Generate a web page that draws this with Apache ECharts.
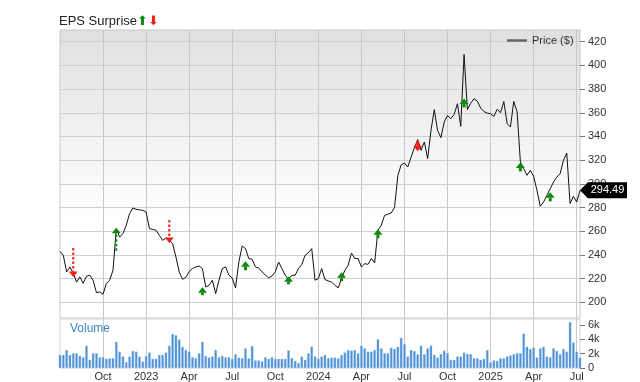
<!DOCTYPE html>
<html><head><meta charset="utf-8">
<script src="https://cdn.jsdelivr.net/npm/echarts@6/dist/echarts.min.js"></script>
<style>html,body{margin:0;padding:0;background:#fff}#c{width:640px;height:382px}</style>
</head><body><div id="c"></div>
<script>
// ---- data ----
const startDate = '2022-07-04';   // first weekly bar
const weekCount = 158;
const price = [
  243, 239.7, 225.6, 229.8, 224.5, 217, 221.4, 216, 222, 222.8,
  218.6, 208.2, 208.7, 206.8, 215.8, 218.6, 227, 262.2, 255, 258,
  265, 274.8, 279.6, 278.5, 278, 277.6, 276.2, 262.2, 261.5, 260.8,
  256.5, 252.3, 254.3, 252.3, 249.5, 238.2, 225.6, 219.4, 221, 226,
  228.5, 229.8, 230.6, 228.4, 212.9, 214.3, 218.6, 207.3, 218.6, 228.4,
  229.8, 222.8, 220.5, 212.1, 234, 247.5, 245.3, 236.9, 236.3, 229.8,
  228.9, 225.6, 223, 220.5, 222.2, 225.6, 234, 228.4, 222.8, 219.4,
  222.8, 222.8, 228.4, 231.8, 239.7, 241.9, 245.3, 218.6, 220, 228.4,
  219.2, 218, 217.1, 214.3, 212.1, 220, 227, 231.2, 241.6, 236.9,
  236.9, 229.8, 232.6, 232, 236.9, 233.2, 261, 265, 273.4, 274.3,
  275.4, 280, 307, 316, 317.6, 314.2, 322.6, 330.5, 337.3, 328.3,
  335.3, 321.3, 345, 362.6, 345, 339, 352.2, 357.8, 355, 358.6,
  367.7, 348.5, 409.3, 362.6, 368, 371.9, 369.9, 364, 361, 359.7,
  359.2, 357, 363, 360, 369.5, 350.8, 348, 369.5, 361, 318.4,
  312.8, 307.2, 311.4, 306.3, 294.5, 281, 284.6, 290.3, 295.9, 301.5,
  305.7, 308.6, 319.8, 326, 283.3, 289.5, 284.6, 294.49
];
const volumeK = [
  1.82, 1.82, 2.5, 1.82, 2.05, 2.05, 1.68, 1.5, 3.09, 1.14,
  2.05, 2.05, 1.5, 1.5, 1.27, 1.36, 1.36, 3.64, 2.27, 1.59,
  0.82, 1.59, 2.36, 2.27, 1.59, 0.91, 1.68, 2.14, 1.27, 1.27,
  1.82, 1.82, 2.14, 3.09, 4.73, 4.55, 3.95, 2.95, 2.5, 2.27,
  1.5, 1.36, 2.05, 3.64, 1.68, 1.45, 1.59, 2.5, 1.5, 1.68,
  1.5, 1.5, 1.27, 1.91, 1.45, 1.36, 2.73, 1.36, 3.05, 1.05,
  1.05, 0.91, 1.5, 1.27, 1.5, 1.27, 1.27, 1.27, 1.27, 2.45,
  1.36, 1.0, 0.68, 1.59, 1.14, 2.05, 2.95, 1.59, 1.3,
  1.59, 1.82, 1.36, 1.45, 1.45, 1.36, 1.82, 2.14, 2.5, 2.41,
  2.5, 2.05, 3.09, 2.73, 2.27, 2.27, 2.5, 4.0, 2.73, 2.05,
  2.05, 2.82, 2.64, 2.95, 4.18, 3.32, 1.59, 2.5, 2.36, 1.91,
  3.09, 1.91, 2.73, 3.09, 1.82, 1.45, 1.95, 2.41, 2.05, 1.14,
  1.14, 1.59, 1.59, 2.14, 1.95, 1.95, 1.36, 1.36, 1.14, 1.27,
  2.5, 0.77, 1.05, 1.0, 1.36, 1.36, 1.59, 1.73, 1.91, 2.05,
  2.05, 4.77, 2.95, 2.64, 2.82, 1.45, 2.73, 2.95, 1.59, 1.5,
  2.73, 2.36, 1.91, 2.64, 2.27, 6.36, 3.55, 2.27, 1.45
];
const priceTicks = [200, 220, 240, 260, 280, 300, 320, 340, 360, 380, 400, 420];
const volumeTicks = [0, 2, 4, 6];
const quarterDates = ['2022-10-01','2023-01-01','2023-04-01','2023-07-01','2023-10-01','2024-01-01',
                      '2024-04-01','2024-07-01','2024-10-01','2025-01-01','2025-04-01','2025-07-01'];
const quarterLabels = ['Oct','2023','Apr','Jul','Oct','2024','Apr','Jul','Oct','2025','Apr','Jul'];
const epsDates = ['2022-08-01','2022-10-31','2023-02-20','2023-05-01','2023-07-31','2023-10-30',
                  '2024-02-19','2024-05-06','2024-07-29','2024-11-04','2025-03-03','2025-05-05'];
const epsFrom = [245.8, 243.5, 269.5, 206, 227, 215.2, 217.7, 254, 335.9, 364.6, 310.5, 285.2];
const epsTo   = [221.3, 263, 250, 212.7, 234.6, 222, 225.3, 261.6, 327.5, 372, 318.1, 292.8];
const lastPriceLabel = '294.49';

// ---- derived ----
const DAY = 86400000;
const t0 = Date.parse(startDate + 'T00:00:00Z');
const dates = [];
for (let i = 0; i < weekCount; i++) dates.push(new Date(t0 + i * 7 * DAY).toISOString().slice(0, 10));
const tickMap = {};
quarterDates.forEach((d, k) => {
  const idx = Math.round((Date.parse(d + 'T00:00:00Z') - t0) / (7 * DAY));
  tickMap[idx] = quarterLabels[k];
});
const isTick = (idx) => tickMap[idx] !== undefined;
const epsData = epsDates.map((d, k) => [d, epsFrom[k], epsTo[k]]);
const FONT = 'Liberation Sans, Arial, sans-serif';

const chart = echarts.init(document.getElementById('c'), null, {renderer: 'canvas'});
chart.setOption({
  animation: false,
  textStyle: {fontFamily: FONT},
  title: [
    {text: 'EPS Surprise{u|⬆}{d|⬇}', left: 59, top: 15, padding: 0,
     textStyle: {fontSize: 13, fontWeight: 'normal', color: '#222', fontFamily: FONT,
       rich: {u: {color: '#0b8a0b', fontSize: 13, fontFamily: 'DejaVu Sans'},
              d: {color: '#ff1a1a', fontSize: 13, fontFamily: 'DejaVu Sans'}}}},
    {text: 'Volume', left: 70, top: 323, padding: 0,
     textStyle: {fontSize: 12, fontWeight: 'normal', color: '#3a87c9', fontFamily: FONT}}
  ],
  legend: {
    data: [{name: 'Price ($)', icon: 'rect'}],
    left: 507, top: 35, padding: 0, itemWidth: 20, itemHeight: 2.5,
    itemStyle: {color: '#666'}, lineStyle: {color: '#666'},
    textStyle: {fontSize: 11, color: '#333', fontFamily: FONT}
  },
  grid: [
    {left: 60, top: 30, width: 520, height: 288, show: true, borderColor: '#c8c8c8', borderWidth: 1,
     backgroundColor: {type: 'linear', x: 0, y: 0, x2: 0, y2: 1,
       colorStops: [{offset: 0, color: '#e0e0e0'}, {offset: 0.65, color: '#ffffff'}, {offset: 1, color: '#ffffff'}]}},
    {left: 60, top: 319, width: 520, height: 51, show: true, borderColor: '#d4d4d4', borderWidth: 1,
     backgroundColor: '#ffffff'}
  ],
  xAxis: [
    {gridIndex: 0, type: 'category', data: dates, boundaryGap: false,
     axisLine: {show: false}, axisTick: {show: false}, axisLabel: {show: false},
     splitLine: {show: true, interval: (i) => isTick(i), lineStyle: {color: '#c8c8c8', width: 1}}},
    {gridIndex: 1, type: 'category', data: dates, boundaryGap: false,
     axisLine: {show: false}, axisTick: {show: false},
     axisLabel: {show: true, interval: (i) => isTick(i), formatter: (v, i) => tickMap[i] || '',
                 fontSize: 11, color: '#333', margin: 3, fontFamily: FONT},
     splitLine: {show: true, interval: (i) => isTick(i), lineStyle: {color: '#c8c8c8', width: 1}}}
  ],
  yAxis: [
    {gridIndex: 0, type: 'value', position: 'right', min: 186.7, max: 429.9,
     axisLine: {show: false},
     axisTick: {show: true, length: 5, customValues: priceTicks, lineStyle: {color: '#777'}},
     axisLabel: {customValues: priceTicks, fontSize: 11, color: '#333', margin: 8, fontFamily: FONT},
     splitLine: {show: true, lineStyle: {color: '#cfcfcf', width: 1}}},
    {gridIndex: 1, type: 'value', position: 'right', min: 0, max: 6.8,
     axisLine: {show: false},
     axisTick: {show: true, length: 5, customValues: volumeTicks, lineStyle: {color: '#777'}},
     axisLabel: {customValues: volumeTicks, formatter: (v) => (v === 0 ? '0' : v + 'k'), fontSize: 11, color: '#333', margin: 8, fontFamily: FONT},
     splitLine: {show: false}}
  ],
  series: [
    {name: 'Price ($)', type: 'line', xAxisIndex: 0, yAxisIndex: 0, data: price,
     symbol: 'none', lineStyle: {color: '#111', width: 1}, itemStyle: {color: '#666'}, z: 3,
     markPoint: {
       symbol: 'path://M0,8L8,0L48,0L48,16L8,16Z', symbolSize: [47, 16], symbolOffset: ['50%', 0],
       itemStyle: {color: '#000'},
       label: {show: true, position: 'inside', formatter: lastPriceLabel, color: '#fff', fontSize: 11, offset: [4, 0], fontFamily: FONT},
       data: [{coord: [weekCount - 1, price[price.length - 1]], value: price[price.length - 1]}]
     }},
    {name: 'Volume', type: 'bar', xAxisIndex: 1, yAxisIndex: 1, data: volumeK,
     barCategoryGap: '25%', itemStyle: {color: '#4a8fd4', borderColor: '#9fc5ec', borderWidth: 0.4}},
    {name: 'EPS', type: 'custom', xAxisIndex: 0, yAxisIndex: 0, data: epsData, z: 5,
     renderItem: function (params, api) {
       const x = api.value(0), from = api.value(1), to = api.value(2);
       const p1 = api.coord([x, from]);
       const p2 = api.coord([x, to]);
       const up = to > from;
       const color = up ? '#0b8a0b' : '#ff1a1a';
       const dir = up ? -1 : 1;
       const headH = 5.5, headW = 4.5;
       const tipY = p2[1];
       const baseY = tipY - dir * headH;
       const long = Math.abs(p2[1] - p1[1]) > 14;
       return {type: 'group', children: [
         {type: 'line', shape: {x1: p1[0], y1: p1[1], x2: p1[0], y2: baseY},
          style: {stroke: color, lineWidth: long ? 2 : 3, lineDash: long ? [2.5, 2] : null}},
         {type: 'polygon', shape: {points: [[p2[0], tipY], [p2[0] - headW, baseY], [p2[0] + headW, baseY]]},
          style: {fill: color}}
       ]};
     }}
  ]
});
</script></body></html>
